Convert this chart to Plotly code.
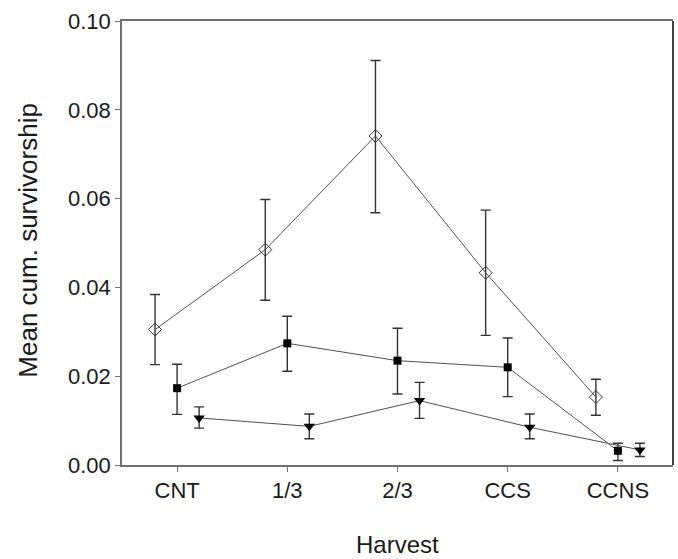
import plotly.graph_objects as go

# Harvest treatments along the x axis
categories = ["CNT", "1/3", "2/3", "CCS", "CCNS"]

# Mean cumulative survivorship per group, with upper / lower error extents
diamond_mean = [0.0305, 0.0485, 0.0741, 0.0433, 0.0153]
diamond_hi = [0.0384, 0.0598, 0.0911, 0.0574, 0.0193]
diamond_lo = [0.0226, 0.0371, 0.0568, 0.0292, 0.0112]

square_mean = [0.0173, 0.0274, 0.0235, 0.0220, 0.0032]
square_hi = [0.0227, 0.0335, 0.0308, 0.0286, 0.0049]
square_lo = [0.0114, 0.0211, 0.0160, 0.0154, 0.0010]

triangle_mean = [0.0106, 0.0087, 0.0145, 0.0085, 0.0034]
triangle_hi = [0.0131, 0.0115, 0.0186, 0.0115, 0.0049]
triangle_lo = [0.0083, 0.0059, 0.0105, 0.0059, 0.0019]

y_ticks = [0.00, 0.02, 0.04, 0.06, 0.08, 0.10]

AXIS_GREY = "#707070"
TEXT = "#1a1a1a"
FONT = "Liberation Sans, Arial, sans-serif"

fig = go.Figure()


def add_series(mean, hi, lo, shift, marker):
    xs = [i + shift for i in range(len(categories))]
    fig.add_trace(go.Scatter(
        x=xs,
        y=mean,
        mode="lines+markers",
        line=dict(color="#505050", width=1),
        marker=marker,
        error_y=dict(
            type="data",
            symmetric=False,
            array=[h - m for h, m in zip(hi, mean)],
            arrayminus=[m - l for m, l in zip(mean, lo)],
            color="#333333",
            thickness=1.4,
            width=5,
        ),
        showlegend=False,
        cliponaxis=False,
    ))


add_series(diamond_mean, diamond_hi, diamond_lo, -0.2,
           dict(symbol="diamond-open", size=10, color="#333333",
                line=dict(width=1, color="#333333")))
add_series(square_mean, square_hi, square_lo, 0.0,
           dict(symbol="square", size=8, color="black"))
add_series(triangle_mean, triangle_hi, triangle_lo, 0.2,
           dict(symbol="triangle-down", size=10, color="black"))

# right-hand frame edge
fig.add_shape(type="line", xref="paper", yref="paper",
              x0=1, x1=1, y0=0, y1=1,
              line=dict(color="black", width=1.5))

# axis titles placed as free text so they don't push the margins
fig.add_annotation(text="Harvest", xref="paper", yref="paper",
                   x=0.5, y=-0.178, xanchor="center", yanchor="middle",
                   showarrow=False, font=dict(size=24, color=TEXT))
fig.add_annotation(text="Mean cum. survivorship", xref="paper", yref="paper",
                   x=-0.171, y=0.507, xanchor="center", yanchor="middle",
                   textangle=-90, showarrow=False,
                   font=dict(size=26, color=TEXT))

fig.update_layout(
    width=678,
    height=559,
    margin=dict(l=122, r=5, t=21, b=94),
    paper_bgcolor="white",
    plot_bgcolor="white",
    font=dict(family=FONT, size=22, color=TEXT),
    xaxis=dict(
        range=[-0.5, 4.5],
        tickmode="array",
        tickvals=list(range(len(categories))),
        ticktext=categories,
        showgrid=False,
        zeroline=False,
        showline=True,
        linecolor=AXIS_GREY,
        linewidth=1.5,
        mirror=True,
        ticks="outside",
        ticklen=5,
        tickcolor=AXIS_GREY,
        tickfont=dict(size=22),
        automargin=False,
    ),
    yaxis=dict(
        range=[0, 0.1],
        tickmode="array",
        tickvals=y_ticks,
        ticktext=[f"{v:.2f}" for v in y_ticks],
        showgrid=False,
        zeroline=False,
        showline=True,
        linecolor=AXIS_GREY,
        linewidth=1.5,
        ticks="outside",
        ticklen=5,
        tickcolor=AXIS_GREY,
        tickfont=dict(size=22),
        automargin=False,
    ),
)

fig.write_html("out.html")
